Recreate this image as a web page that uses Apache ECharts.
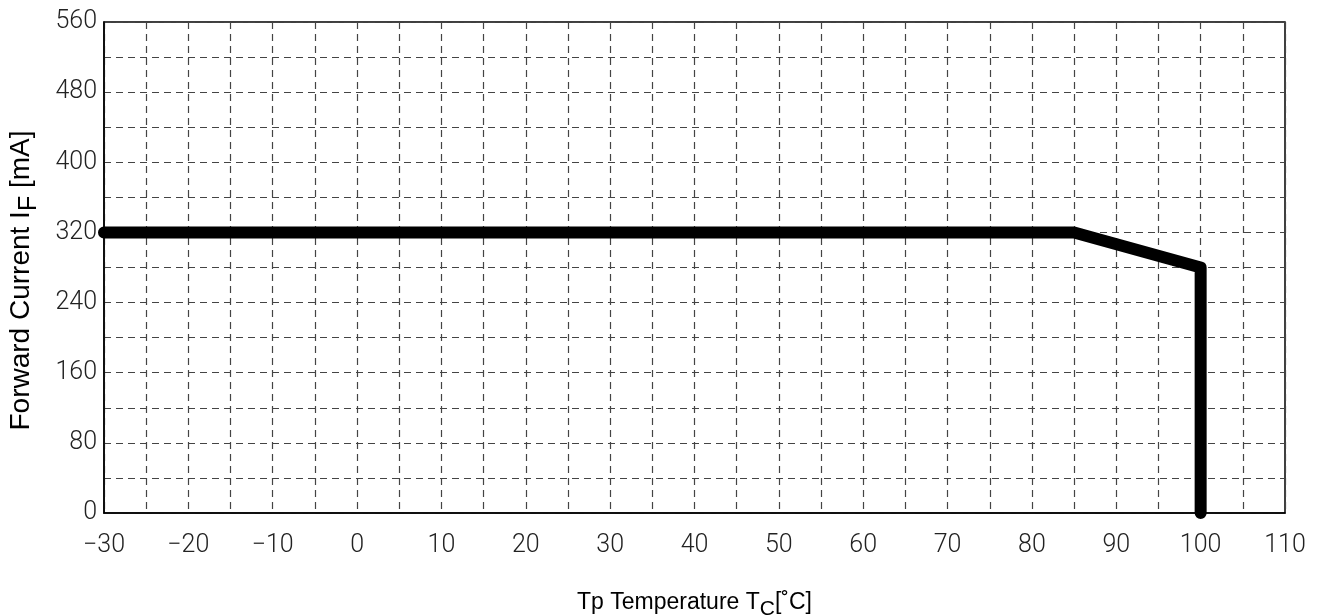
<!DOCTYPE html>
<html><head><meta charset="utf-8">
<script src="https://cdn.jsdelivr.net/npm/echarts@6/dist/echarts.min.js"></script>
<style>html,body{margin:0;padding:0;background:#fff}#c{width:1322px;height:616px}</style>
</head><body><div id="c"></div>
<script>
const temperatures = [-30, 85, 100, 100];
const currents = [320, 320, 280, 0];
const xTicks = [-30, 110, 10];
const yTicks = [0, 560, 80];

const chart = echarts.init(document.getElementById('c'), null, {renderer: 'canvas'});
const dash = {color: '#444', width: 1.2, type: [7, 5]};
const tickFont = {fontFamily: 'Roboto', fontWeight: 300, fontSize: 25, color: '#222'};
chart.setOption({
  animation: false,
  grid: {left: 104, right: 37, top: 22, bottom: 103, show: true, borderColor: '#000', borderWidth: 1.5, backgroundColor: '#fff', containLabel: false, outerBoundsMode: 'none'},
  xAxis: {
    type: 'value', min: xTicks[0], max: xTicks[1], interval: xTicks[2],
    axisLine: {show: true, onZero: false, lineStyle: {color: '#000', width: 1.5}},
    axisTick: {show: false},
    axisLabel: Object.assign({margin: 20, formatter: v => (v < 0 ? '\u2212' + Math.abs(v) : String(v))}, tickFont),
    splitLine: {show: true, lineStyle: dash},
    minorTick: {show: false, splitNumber: 2},
    minorSplitLine: {show: true, lineStyle: dash},
    name: '{a|Tp Temperature T}{s|C}{a|[\u02DAC]}',
    nameLocation: 'middle', nameGap: 72,
    nameTextStyle: {rich: {
      a: {fontFamily: 'Liberation Sans', fontSize: 23, color: '#000'},
      s: {fontFamily: 'Liberation Sans', fontSize: 21, color: '#000', padding: [14, 0, 0, 0]}
    }}
  },
  yAxis: {
    type: 'value', min: yTicks[0], max: yTicks[1], interval: yTicks[2],
    axisLine: {show: true, onZero: false, lineStyle: {color: '#000', width: 1.5}},
    axisTick: {show: false},
    axisLabel: Object.assign({margin: 7}, tickFont),
    splitLine: {show: true, lineStyle: dash},
    minorTick: {show: false, splitNumber: 2},
    minorSplitLine: {show: true, lineStyle: dash},
    name: '{a|Forward Current I}{s|F}{a| [mA]}',
    nameLocation: 'middle', nameGap: 62, nameRotate: 90,
    nameTextStyle: {padding: [0, 26, 0, 0], rich: {
      a: {fontFamily: 'Liberation Sans', fontSize: 28, color: '#000'},
      s: {fontFamily: 'Liberation Sans', fontSize: 25, color: '#000', padding: [16, 0, 0, 0]}
    }}
  },
  series: [{
    type: 'line',
    data: temperatures.map((t, i) => [t, currents[i]]),
    symbol: 'none', clip: false,
    lineStyle: {color: '#000', width: 12, cap: 'round', join: 'round'}
  }]
});
</script></body></html>
